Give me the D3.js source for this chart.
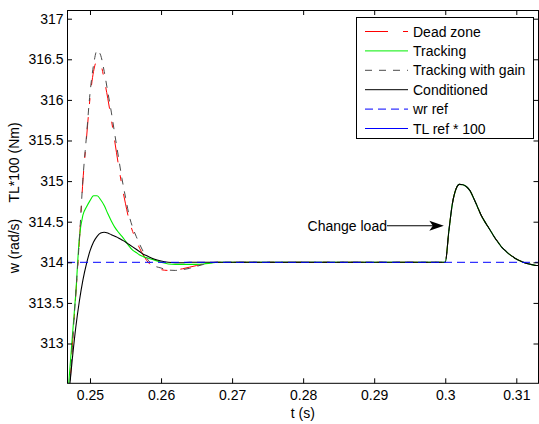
<!DOCTYPE html>
<html>
<head>
<meta charset="utf-8">
<script src="https://cdn.jsdelivr.net/npm/d3@7/dist/d3.min.js"></script>
<style>
  html, body { margin: 0; padding: 0; background: #fff; }
  svg { display: block; }
  text { font-family: "Liberation Sans", Arial, Helvetica, sans-serif; fill: #000; }
</style>
</head>
<body>
<svg id="chart" width="539" height="424"></svg>
<script>
// Start-up transient (s)
const tTransient = [
  0.2470, 0.2475, 0.2480, 0.2485, 0.2490, 0.2495, 0.2500, 0.2505, 0.2510, 0.2515,
  0.2520, 0.2525, 0.2530, 0.2535, 0.2540, 0.2545, 0.2550, 0.2555, 0.2560, 0.2565,
  0.2570, 0.2575, 0.2580, 0.2590, 0.2600, 0.2610, 0.2620, 0.2630, 0.2640, 0.2650,
  0.2660, 0.2670, 0.2680, 0.2700, 0.2800, 0.2900
];
// Speed during the transient for each anti-windup scheme (rad/s)
const deadZone = [
  312.2, 312.95, 313.6, 314.25, 315.0, 315.52, 316.02, 316.35, 316.48, 316.44,
  316.25, 316.02, 315.76, 315.48, 315.2, 314.94, 314.72, 314.52, 314.38, 314.27,
  314.17, 314.09, 314.02, 313.94, 313.91, 313.9, 313.905, 313.92, 313.94, 313.96,
  313.98, 313.995, 314.0, 314.0, 314.0, 314.0
];
const tracking = [
  312.5, 313.07, 313.62, 314.3, 314.58, 314.68, 314.76, 314.82, 314.82, 314.77,
  314.7, 314.6, 314.51, 314.43, 314.37, 314.32, 314.26, 314.2, 314.15, 314.12,
  314.09, 314.07, 314.055, 314.03, 314.0, 313.98, 313.975, 313.975, 313.975, 313.975,
  313.98, 313.99, 314.0, 314.0, 314.0, 314.0
];
const trackingGain = [
  312.2, 312.95, 313.62, 314.27, 315.02, 315.55, 316.08, 316.43, 316.61, 316.55,
  316.35, 316.1, 315.85, 315.57, 315.3, 315.03, 314.8, 314.58, 314.43, 314.32,
  314.22, 314.13, 314.05, 313.96, 313.93, 313.905, 313.9, 313.91, 313.925, 313.95,
  313.975, 313.995, 314.0, 314.0, 314.0, 314.0
];
const conditioned = [
  312.35, 312.8, 313.2, 313.52, 313.78, 313.98, 314.14, 314.25, 314.32, 314.36,
  314.37, 314.36, 314.34, 314.32, 314.3, 314.275, 314.25, 314.22, 314.19, 314.16,
  314.13, 314.1, 314.08, 314.04, 314.015, 314.0, 313.995, 313.995, 314.0, 314.0,
  314.0, 314.0, 314.0, 314.0, 314.0, 314.0
];
// Load step at t = 0.3 s (identical response for all schemes)
const tLoad = [
  0.3000, 0.3005, 0.3010, 0.3015, 0.3020, 0.3025, 0.3030, 0.3035, 0.3040, 0.3045,
  0.3050, 0.3055, 0.3060, 0.3065, 0.3070, 0.3075, 0.3080, 0.3085, 0.3090, 0.3095,
  0.3100, 0.3105, 0.3110, 0.3115, 0.3120, 0.3125, 0.3130, 0.3135
];
const loadResponse = [
  314.0, 314.38, 314.72, 314.9, 314.96, 314.955, 314.93, 314.88, 314.79, 314.69,
  314.59, 314.51, 314.44, 314.37, 314.3, 314.24, 314.18, 314.14, 314.1, 314.07,
  314.04, 314.02, 314.0, 313.985, 313.975, 313.965, 313.96, 313.955
];
const wrRef = 314;

const seriesNames = ["Dead zone", "Tracking", "Tracking with gain", "Conditioned", "wr ref", "TL ref * 100"];
const xTicks = [0.25, 0.26, 0.27, 0.28, 0.29, 0.30, 0.31];
const xTickLabels = ["0.25", "0.26", "0.27", "0.28", "0.29", "0.3", "0.31"];
const yTicks = [313, 313.5, 314, 314.5, 315, 315.5, 316, 316.5, 317];
const yTickLabels = ["313", "313.5", "314", "314.5", "315", "315.5", "316", "316.5", "317"];
const annotationText = "Change load";
const annotationFrom = [0.2918, 314.45];
const annotationTo = [0.2998, 314.45];

// Line styles per series
const styles = {
  "Dead zone":          { color: "#ff0000", dash: "22,13,6,13", width: 1 },
  "Tracking":           { color: "#00ee00", dash: null, width: 1.1 },
  "Tracking with gain": { color: "#4a4a4a", dash: "7,7", width: 1 },
  "Conditioned":        { color: "#000000", dash: null, width: 1.1 },
  "wr ref":             { color: "#0000ff", dash: "8,5", width: 1 },
  "TL ref * 100":       { color: "#0000ff", dash: null, width: 1 }
};

const svg = d3.select("#chart");
const pLeft = 67, pRight = 538.5, pTop = 10, pBottom = 383.3;

const x = d3.scaleLinear().domain([0.246763, 0.313124]).range([pLeft, pRight]);
const y = d3.scaleLinear().domain([312.51, 317.107]).range([pBottom, pTop]);

svg.append("defs").append("clipPath").attr("id", "plotClip")
  .append("rect").attr("x", pLeft).attr("y", pTop)
  .attr("width", pRight - pLeft).attr("height", pBottom - pTop);

const timeAll = tTransient.concat(tLoad);
const build = vals => timeAll.map((t, i) => [t, i < vals.length ? vals[i] : loadResponse[i - vals.length]]);

const line = d3.line().x(d => x(d[0])).y(d => y(d[1])).curve(d3.curveMonotoneX);

const plot = svg.append("g").attr("clip-path", "url(#plotClip)");

const drawn = [
  ["Dead zone", build(deadZone)],
  ["Tracking", build(tracking)],
  ["Tracking with gain", build(trackingGain)],
  ["Conditioned", build(conditioned)],
  ["wr ref", [[x.domain()[0], wrRef], [x.domain()[1], wrRef]]]
];

drawn.forEach(([name, pts]) => {
  const s = styles[name];
  plot.append("path")
    .attr("d", line(pts))
    .attr("fill", "none")
    .attr("stroke", s.color)
    .attr("stroke-width", s.width)
    .attr("stroke-dasharray", s.dash);
});

// Axes with inward ticks on all four sides
const axisFont = g => g.selectAll("text").style("font-size", "14px")
  .style("font-family", "'Liberation Sans', Arial, sans-serif");

svg.append("g").attr("transform", `translate(0,${pBottom})`)
  .call(d3.axisBottom(x).tickValues(xTicks).tickFormat((d, i) => xTickLabels[i]).tickSize(-5).tickPadding(7))
  .call(g => g.select(".domain").remove())
  .call(axisFont);
svg.append("g").attr("transform", `translate(0,${pTop})`)
  .call(d3.axisTop(x).tickValues(xTicks).tickFormat("").tickSize(-5))
  .call(g => g.select(".domain").remove());
svg.append("g").attr("transform", `translate(${pLeft},0)`)
  .call(d3.axisLeft(y).tickValues(yTicks).tickFormat((d, i) => yTickLabels[i]).tickSize(-5).tickPadding(3.5))
  .call(g => g.select(".domain").remove())
  .call(axisFont);
svg.append("g").attr("transform", `translate(${pRight},0)`)
  .call(d3.axisRight(y).tickValues(yTicks).tickFormat("").tickSize(-5))
  .call(g => g.select(".domain").remove());

svg.append("rect")
  .attr("x", pLeft + 0.5).attr("y", pTop + 0.5)
  .attr("width", pRight - pLeft - 0.5).attr("height", pBottom - pTop - 0.5)
  .attr("fill", "none").attr("stroke", "#000").attr("stroke-width", 1);

// Axis titles
svg.append("text").attr("x", (pLeft + pRight) / 2).attr("y", 418)
  .attr("text-anchor", "middle").style("font-size", "14px").text("t (s)");
svg.append("text").attr("transform", "translate(19,246) rotate(-90)")
  .attr("text-anchor", "middle").style("font-size", "14px").text("w (rad/s)");
svg.append("text").attr("transform", "translate(19,162.5) rotate(-90)")
  .attr("text-anchor", "middle").style("font-size", "14px").text("TL*100 (Nm)");

// Load-change annotation
const ax0 = x(annotationFrom[0]), ay = y(annotationFrom[1]), ax1 = x(annotationTo[0]);
svg.append("text").attr("x", ax0).attr("y", ay).attr("dy", "0.35em")
  .attr("text-anchor", "end").style("font-size", "14px").text(annotationText);
svg.append("line").attr("x1", ax0).attr("y1", ay).attr("x2", ax1 - 10).attr("y2", ay)
  .attr("stroke", "#000").attr("stroke-width", 1);
svg.append("path")
  .attr("d", `M${ax1},${ay} L${ax1 - 14.5},${ay - 5} L${ax1 - 11},${ay} L${ax1 - 14.5},${ay + 5} Z`)
  .attr("fill", "#000");

// Legend
const lg = svg.append("g");
lg.append("rect").attr("x", 356.5).attr("y", 17.5).attr("width", 177).attr("height", 121)
  .attr("fill", "#fff").attr("stroke", "#000").attr("stroke-width", 1);
seriesNames.forEach((name, i) => {
  const s = styles[name];
  const ry = 31.5 + i * 19.4;
  lg.append("line").attr("x1", 365).attr("x2", 408).attr("y1", ry).attr("y2", ry)
    .attr("stroke", s.color).attr("stroke-width", 1)
    .attr("stroke-dasharray", name === "Dead zone" ? "23,15,5" : s.dash);
  lg.append("text").attr("x", 413).attr("y", ry).attr("dy", "0.36em")
    .style("font-size", "14px").text(name);
});
</script>
</body>
</html>
